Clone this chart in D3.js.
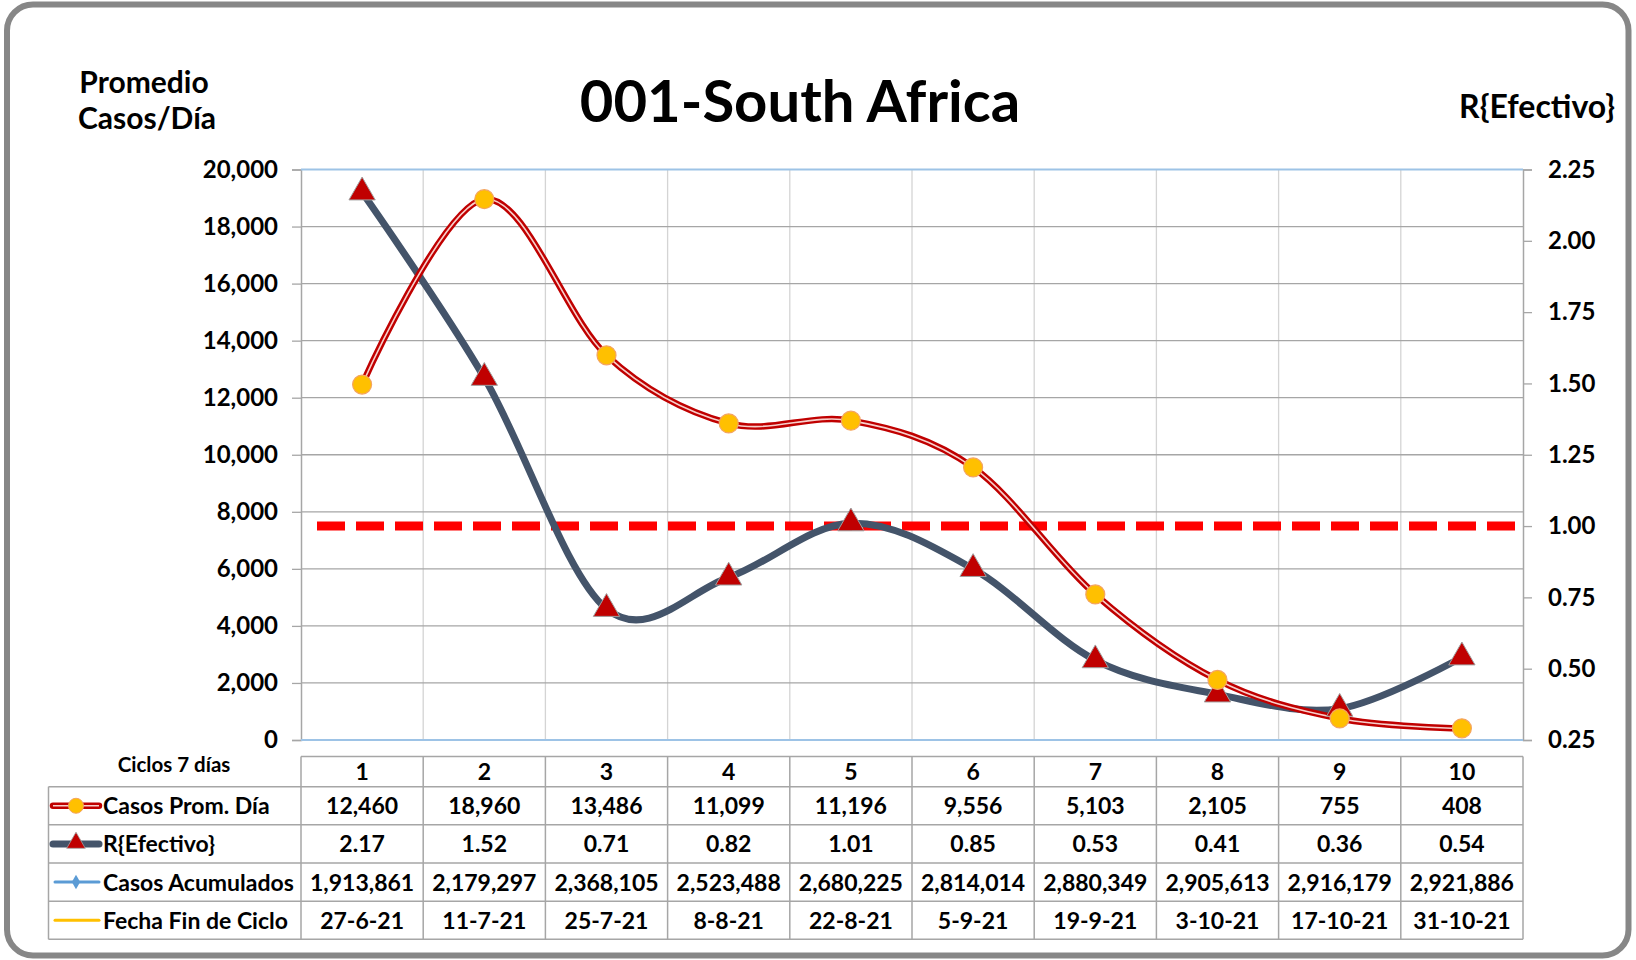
<!DOCTYPE html>
<html>
<head>
<meta charset="utf-8">
<script src="https://cdn.jsdelivr.net/npm/d3@7"></script>
<style>
  html, body { margin: 0; padding: 0; background: #fff; }
  svg { display: block; }
  text { font-family: Lato, "Noto Sans", sans-serif; font-weight: bold; fill: #000; }
</style>
</head>
<body>
<svg id="chart" width="1636" height="960"></svg>
<script>
// ---- data ----
const title = "001-South Africa";
const cycles = ["1", "2", "3", "4", "5", "6", "7", "8", "9", "10"];
const casosProm = [12460, 18960, 13486, 11099, 11196, 9556, 5103, 2105, 755, 408];
const rEfectivo = [2.17, 1.52, 0.71, 0.82, 1.01, 0.85, 0.53, 0.41, 0.36, 0.54];
const casosAcum = [1913861, 2179297, 2368105, 2523488, 2680225, 2814014, 2880349, 2905613, 2916179, 2921886];
const fechaFin = ["27-6-21", "11-7-21", "25-7-21", "8-8-21", "22-8-21", "5-9-21", "19-9-21", "3-10-21", "17-10-21", "31-10-21"];
const leftTicks = [0, 2000, 4000, 6000, 8000, 10000, 12000, 14000, 16000, 18000, 20000];
const rightTicks = [0.25, 0.50, 0.75, 1.00, 1.25, 1.50, 1.75, 2.00, 2.25];
const rThreshold = 1.0;
const seriesNames = ["Casos Prom. Día", "R{Efectivo}", "Casos Acumulados", "Fecha Fin de Ciclo"];

// ---- layout ----
const svg = d3.select("#chart");
const plot = { left: 301, right: 1523, top: 169.5, bottom: 740 };
const x = d3.scaleBand().domain(cycles).range([plot.left, plot.right]).padding(0);
const yL = d3.scaleLinear().domain([0, 20000]).range([plot.bottom, plot.top]);
const yR = d3.scaleLinear().domain([0.25, 2.25]).range([plot.bottom, plot.top]);
const cx = d => x(d) + x.bandwidth() / 2;

// frame
svg.append("rect").attr("x", 7).attr("y", 4.5).attr("width", 1621.5).attr("height", 951)
  .attr("rx", 26).attr("fill", "#fff").attr("stroke", "#878787").attr("stroke-width", 6);

// gridlines
const g = svg.append("g");
g.selectAll(".vg").data(cycles.slice(1)).join("line")
  .attr("x1", d => x(d)).attr("x2", d => x(d))
  .attr("y1", plot.top).attr("y2", plot.bottom)
  .attr("stroke", "#D4D4D4").attr("stroke-width", 1.3);
g.selectAll(".hg").data(leftTicks.slice(1, -1)).join("line")
  .attr("x1", plot.left).attr("x2", plot.right)
  .attr("y1", d => yL(d)).attr("y2", d => yL(d))
  .attr("stroke", "#A6A6A6").attr("stroke-width", 1.3);

// axes
const axL = svg.append("g").attr("transform", `translate(${plot.left},0)`)
  .call(d3.axisLeft(yL).tickValues(leftTicks).tickFormat(d3.format(",")).tickSize(9).tickPadding(14));
const axR = svg.append("g").attr("transform", `translate(${plot.right},0)`)
  .call(d3.axisRight(yR).tickValues(rightTicks).tickFormat(d3.format(".2f")).tickSize(9).tickPadding(16));
[axL, axR].forEach(a => {
  a.select(".domain").attr("stroke", "#A6A6A6").attr("stroke-width", 1.5);
  a.selectAll(".tick line").attr("stroke", "#A6A6A6").attr("stroke-width", 1.3);
  a.selectAll(".tick text").style("font-family", "Lato").style("font-weight", "bold")
    .style("font-size", "24px").attr("fill", "#000");
});
axR.selectAll(".tick text").attr("text-anchor", "start");

// top and bottom light-blue lines
svg.append("line").attr("x1", plot.left).attr("x2", plot.right)
  .attr("y1", plot.top).attr("y2", plot.top).attr("stroke", "#9DC3E6").attr("stroke-width", 2);
svg.append("line").attr("x1", plot.left).attr("x2", plot.right)
  .attr("y1", plot.bottom).attr("y2", plot.bottom).attr("stroke", "#9DC3E6").attr("stroke-width", 2);

// threshold dashed line
svg.append("line").attr("x1", plot.left + 16).attr("x2", plot.right - 4)
  .attr("y1", yR(rThreshold)).attr("y2", yR(rThreshold))
  .attr("stroke", "#FF0000").attr("stroke-width", 9).attr("stroke-dasharray", "28 11");

// lines
const curve = d3.curveCatmullRom.alpha(0);
const lineR = d3.line().x((d, i) => cx(cycles[i])).y(d => yR(d)).curve(curve);
const lineC = d3.line().x((d, i) => cx(cycles[i])).y(d => yL(d)).curve(curve);

svg.append("path").attr("d", lineR(rEfectivo)).attr("fill", "none")
  .attr("stroke", "#44546A").attr("stroke-width", 7).attr("stroke-linecap", "round");
svg.append("path").attr("d", lineC(casosProm)).attr("fill", "none")
  .attr("stroke", "#C00000").attr("stroke-width", 6.5).attr("stroke-linecap", "round");
svg.append("path").attr("d", lineC(casosProm)).attr("fill", "none")
  .attr("stroke", "#F7D0CC").attr("stroke-width", 1.6);

// markers
const tri = d3.symbol().type(d3.symbolTriangle).size(300);
svg.selectAll(".tri").data(rEfectivo).join("path")
  .attr("d", tri).attr("transform", (d, i) => `translate(${cx(cycles[i])},${yR(d)})`)
  .attr("fill", "#C00000").attr("stroke", "#A0A0A0").attr("stroke-width", 1);
svg.selectAll(".dot").data(casosProm).join("circle")
  .attr("cx", (d, i) => cx(cycles[i])).attr("cy", d => yL(d)).attr("r", 9.5)
  .attr("fill", "#FFC000").attr("stroke", "#F4A460").attr("stroke-width", 1.2);

// title and axis titles
svg.append("text").attr("x", 800).attr("y", 122).attr("text-anchor", "middle")
  .style("font-size", "58px").text(title);
svg.append("text").attr("x", 144).attr("y", 93).attr("text-anchor", "middle")
  .style("font-size", "30px").text("Promedio");
svg.append("text").attr("x", 147).attr("y", 129).attr("text-anchor", "middle")
  .style("font-size", "30px").text("Casos/Día");
svg.append("text").attr("x", 1615).attr("y", 118).attr("text-anchor", "end")
  .style("font-size", "32px").text("R{Efectivo}");

// ---- data table ----
const tbl = svg.append("g");
const headTop = 756.5, headH = 30.2, rowH = 38.15, tblLeft = 48.5;
const rowTops = d3.range(4).map(i => headTop + headH + i * rowH);
const tblBottom = headTop + headH + 4 * rowH;
const gridC = "#A6A6A6";
tbl.append("line").attr("x1", plot.left).attr("x2", plot.right).attr("y1", headTop).attr("y2", headTop)
  .attr("stroke", gridC).attr("stroke-width", 1.5);
[headTop + headH, ...rowTops.slice(1), tblBottom].forEach(yy => {
  tbl.append("line").attr("x1", tblLeft).attr("x2", plot.right).attr("y1", yy).attr("y2", yy)
    .attr("stroke", gridC).attr("stroke-width", 1.5);
});
tbl.append("line").attr("x1", tblLeft).attr("x2", tblLeft).attr("y1", headTop + headH).attr("y2", tblBottom)
  .attr("stroke", gridC).attr("stroke-width", 1.5);
[...cycles.map(c => x(c)), plot.right].forEach(xx => {
  tbl.append("line").attr("x1", xx).attr("x2", xx).attr("y1", headTop).attr("y2", tblBottom)
    .attr("stroke", gridC).attr("stroke-width", 1.5);
});
tbl.append("text").attr("x", 174).attr("y", 772).attr("text-anchor", "middle")
  .style("font-size", "20.5px").text("Ciclos 7 días");
tbl.selectAll(".hd").data(cycles).join("text")
  .attr("x", d => cx(d)).attr("y", headTop + headH / 2 + 8.5).attr("text-anchor", "middle")
  .style("font-size", "23px").text(d => d);

const fmtInt = d3.format(",");
const fmtR = d3.format(".2f");
const rows = [
  casosProm.map(fmtInt),
  rEfectivo.map(fmtR),
  casosAcum.map(fmtInt),
  fechaFin
];
rows.forEach((vals, r) => {
  const yc = rowTops[r] + rowH / 2;
  tbl.selectAll(".r" + r).data(vals).join("text")
    .attr("x", (d, i) => cx(cycles[i])).attr("y", yc + 8.5).attr("text-anchor", "middle")
    .style("font-size", "23px").text(d => d);
  tbl.append("text").attr("x", 103).attr("y", yc + 8.5).style("font-size", "23px").text(seriesNames[r]);
});

// legend keys
const kx1 = 53, kx2 = 99, kxm = 76;
const ky = r => rowTops[r] + rowH / 2;
tbl.append("line").attr("x1", kx1).attr("x2", kx2).attr("y1", ky(0)).attr("y2", ky(0))
  .attr("stroke", "#C00000").attr("stroke-width", 6.5).attr("stroke-linecap", "round");
tbl.append("line").attr("x1", kx1).attr("x2", kx2).attr("y1", ky(0)).attr("y2", ky(0))
  .attr("stroke", "#F7D0CC").attr("stroke-width", 1.6);
tbl.append("circle").attr("cx", kxm).attr("cy", ky(0)).attr("r", 7.5)
  .attr("fill", "#FFC000").attr("stroke", "#F4A460").attr("stroke-width", 1);
tbl.append("line").attr("x1", kx1).attr("x2", kx2).attr("y1", ky(1)).attr("y2", ky(1))
  .attr("stroke", "#44546A").attr("stroke-width", 7).attr("stroke-linecap", "round");
tbl.append("path").attr("d", d3.symbol().type(d3.symbolTriangle).size(150))
  .attr("transform", `translate(${kxm},${ky(1) - 1})`)
  .attr("fill", "#C00000").attr("stroke", "#A0A0A0").attr("stroke-width", 0.8);
tbl.append("line").attr("x1", kx1 + 2).attr("x2", kx2).attr("y1", ky(2)).attr("y2", ky(2))
  .attr("stroke", "#5B9BD5").attr("stroke-width", 3).attr("stroke-linecap", "round");
tbl.append("path").attr("d", d3.symbol().type(d3.symbolDiamond).size(60))
  .attr("transform", `translate(${kxm},${ky(2)})`).attr("fill", "#5B9BD5");
tbl.append("line").attr("x1", kx1 + 2).attr("x2", kx2).attr("y1", ky(3)).attr("y2", ky(3))
  .attr("stroke", "#FFC000").attr("stroke-width", 3).attr("stroke-linecap", "round");
tbl.append("path").attr("d", d3.symbol().type(d3.symbolTimes).size(110))
  .attr("transform", `translate(${kxm},${ky(3)})`)
  .attr("fill", "#FFE699");
</script>
</body>
</html>
